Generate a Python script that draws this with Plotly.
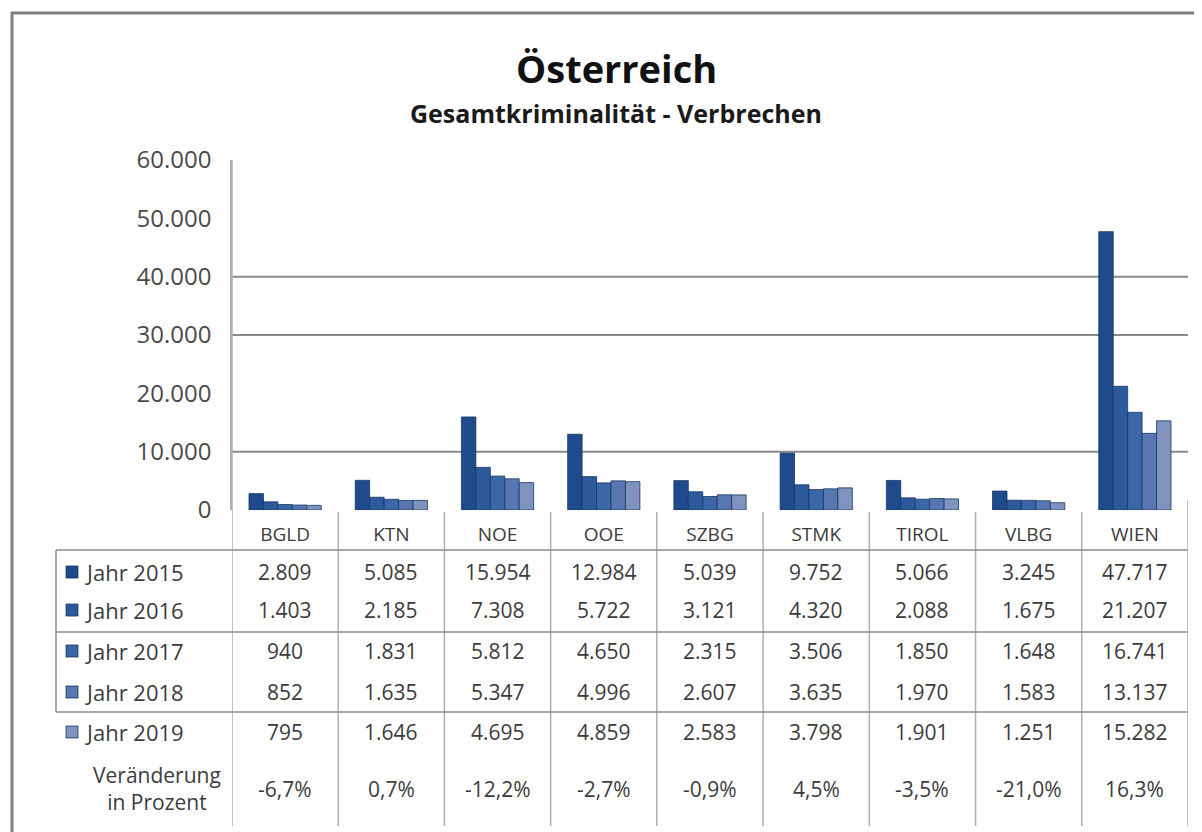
import plotly.graph_objects as go

# ---------------- data ----------------
categories = ["BGLD", "KTN", "NOE", "OOE", "SZBG", "STMK", "TIROL", "VLBG", "WIEN"]
series_names = ["Jahr 2015", "Jahr 2016", "Jahr 2017", "Jahr 2018", "Jahr 2019"]
jahr_2015 = [2809, 5085, 15954, 12984, 5039, 9752, 5066, 3245, 47717]
jahr_2016 = [1403, 2185, 7308, 5722, 3121, 4320, 2088, 1675, 21207]
jahr_2017 = [940, 1831, 5812, 4650, 2315, 3506, 1850, 1648, 16741]
jahr_2018 = [852, 1635, 5347, 4996, 2607, 3635, 1970, 1583, 13137]
jahr_2019 = [795, 1646, 4695, 4859, 2583, 3798, 1901, 1251, 15282]
veraenderung = ["-6,7%", "0,7%", "-12,2%", "-2,7%", "-0,9%", "4,5%", "-3,5%", "-21,0%", "16,3%"]
y_ticks = [0, 10000, 20000, 30000, 40000, 50000, 60000]
grid_values = [10000, 30000, 40000]

series_values = [jahr_2015, jahr_2016, jahr_2017, jahr_2018, jahr_2019]
colors = ["#1f4b8c", "#2c5a9c", "#3b67a8", "#5877b2", "#8093bf"]
edge = "#17375f"

# ---------------- geometry helpers (page pixels) ----------------
OFF = 8                      # default body margin of the html page
PW, PH = 1202, 832           # page size
W, H = PW - OFF, PH - OFF    # figure size
L, R, T, B = 232, 1188, 160, 510   # plot area in page pixels


def px_x(x):
    return (x - L) / (R - L)


def px_y(y):
    return (B - y) / (B - T)


FONT = "Open Sans"
TXT = "#3c3c3c"

fig = go.Figure()
for name, vals, col in zip(series_names, series_values, colors):
    fig.add_trace(go.Bar(
        x=categories, y=vals, name=name,
        marker=dict(color=col, line=dict(color=edge, width=0.8)),
        hoverinfo="skip",
    ))

shapes = []
annotations = []

# gridlines
for g in grid_values:
    shapes.append(dict(type="line", xref="paper", yref="y", x0=0, x1=1, y0=g, y1=g,
                       line=dict(color="#8a8a8a", width=2), layer="below"))

# vertical separators (category boundaries) down through the table
n = len(categories)
for k in range(n + 1):
    y_top = px_y(160) if k == 0 else (px_y(500) if k == n else px_y(512))
    shapes.append(dict(type="line", xref="x", yref="paper", x0=k - 0.5, x1=k - 0.5,
                       y0=y_top, y1=px_y(826), line=dict(color="#b0b0b0", width=1.5)))

# horizontal table lines
for yy in [550, 632, 712]:
    shapes.append(dict(type="line", xref="paper", yref="paper", x0=px_x(56), x1=1,
                       y0=px_y(yy), y1=px_y(yy), line=dict(color="#8c8c8c", width=1.5)))
# left table border
shapes.append(dict(type="line", xref="paper", yref="paper", x0=px_x(56), x1=px_x(56),
                   y0=px_y(550), y1=px_y(712), line=dict(color="#8c8c8c", width=1.5)))

# outer frame (top + left)
shapes.append(dict(type="line", xref="paper", yref="paper", x0=px_x(11), x1=px_x(PW + 5),
                   y0=px_y(13), y1=px_y(13), line=dict(color="#7f7f7f", width=3)))
shapes.append(dict(type="line", xref="paper", yref="paper", x0=px_x(12), x1=px_x(12),
                   y0=px_y(12), y1=px_y(PH + 5), line=dict(color="#7f7f7f", width=3)))

# table rows
row_y = [572, 610, 651, 692, 732]
for name, vals, col, yy in zip(series_names, series_values, colors, row_y):
    shapes.append(dict(type="rect", xref="paper", yref="paper",
                       x0=px_x(66), x1=px_x(78), y0=px_y(yy - 6), y1=px_y(yy + 6),
                       fillcolor=col, line=dict(color=edge, width=0.8)))
    annotations.append(dict(xref="paper", yref="paper", x=px_x(83), y=px_y(yy),
                            text=name, showarrow=False, xanchor="left", yanchor="middle",
                            font=dict(family=FONT, size=22, color=TXT)))
    for c, v in zip(categories, vals):
        annotations.append(dict(xref="x", yref="paper", x=c, y=px_y(yy),
                                text=f"{v:,}".replace(",", "."), showarrow=False,
                                xanchor="center", yanchor="middle",
                                font=dict(family=FONT, size=21, color=TXT)))

annotations.append(dict(xref="paper", yref="paper", x=px_x(157), y=px_y(788),
                        text="Veränderung<br>in Prozent", showarrow=False, align="center",
                        xanchor="center", yanchor="middle",
                        font=dict(family=FONT, size=21, color=TXT)))
for c, p in zip(categories, veraenderung):
    annotations.append(dict(xref="x", yref="paper", x=c, y=px_y(789), text=p,
                            showarrow=False, xanchor="center", yanchor="middle",
                            font=dict(family=FONT, size=21, color=TXT)))

# titles
annotations.append(dict(xref="paper", yref="paper", x=px_x(616), y=px_y(68),
                        text="<b>Österreich</b>", showarrow=False, xanchor="center",
                        yanchor="middle", font=dict(family=FONT, size=38, color="#111111")))
annotations.append(dict(xref="paper", yref="paper", x=px_x(616), y=px_y(113),
                        text="<b>Gesamtkriminalität - Verbrechen</b>", showarrow=False,
                        xanchor="center", yanchor="middle",
                        font=dict(family=FONT, size=25, color="#1a1a1a")))

fig.update_layout(
    width=W, height=H,
    margin=dict(l=L - OFF, r=PW - R, t=T - OFF, b=PH - B, pad=0),
    paper_bgcolor="white", plot_bgcolor="white",
    separators=",.",
    barmode="group", bargap=0.32, bargroupgap=0.0,
    showlegend=False,
    shapes=shapes, annotations=annotations,
    xaxis=dict(showgrid=False, showline=False, zeroline=False, ticks="",
               tickfont=dict(family=FONT, size=19, color=TXT), ticklabelstandoff=11,
               range=[-0.5, n - 0.5], fixedrange=True),
    yaxis=dict(range=[0, 60000], tickvals=y_ticks, tickformat=",.0f", showgrid=False,
               zeroline=False, showline=True, linecolor="#b0b0b0", linewidth=1.5,
               ticks="", ticklabelstandoff=14,
               tickfont=dict(family=FONT, size=24, color="#4a4a4a"), fixedrange=True),
)

fig.write_html("out.html")
